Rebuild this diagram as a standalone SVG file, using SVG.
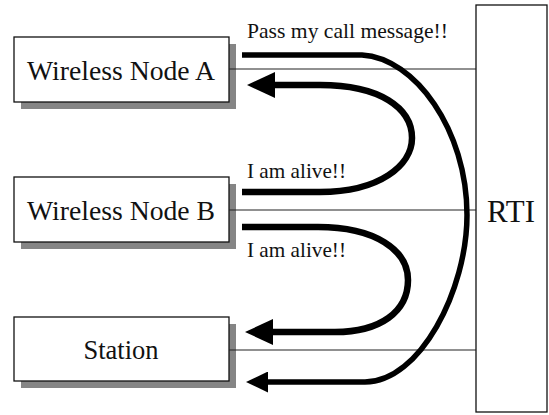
<svg xmlns="http://www.w3.org/2000/svg" width="549" height="415" viewBox="0 0 549 415">
  <style>
    .box { fill: #ffffff; stroke: #111; stroke-width: 1.3; }
    .shadow { fill: #858585; }
    text { font-family: "Liberation Serif", "Times New Roman", serif; fill: #111; }
    .node-text { font-size: 27px; text-anchor: middle; }
    .label { font-size: 21px; }
    .thin { stroke: #222; stroke-width: 1.2; fill: none; }
    .thick { stroke: #000; fill: none; stroke-linecap: butt; stroke-linejoin: round; }
  </style>
  <defs>
    <marker id="headBig" markerUnits="userSpaceOnUse" viewBox="0 0 28 26" refX="0" refY="13" markerWidth="28" markerHeight="26" orient="auto">
      <path d="M0,0 L28,13 L0,26 Z" fill="#000"/>
    </marker>
    <marker id="headSmall" markerUnits="userSpaceOnUse" viewBox="0 0 22 21" refX="0" refY="10.5" markerWidth="22" markerHeight="21" orient="auto">
      <path d="M0,0 L22,10.5 L0,21 Z" fill="#000"/>
    </marker>
  </defs>
  <rect width="549" height="415" fill="#ffffff"/>

  <g id="node-a">
    <rect class="shadow" x="21" y="44" width="215" height="65"/>
    <rect class="box" x="14" y="37" width="215" height="65"/>
    <text class="node-text" x="121" y="80" textLength="188" lengthAdjust="spacingAndGlyphs">Wireless Node A</text>
  </g>

  <g id="node-b">
    <rect class="shadow" x="21" y="184" width="215" height="65"/>
    <rect class="box" x="14" y="177" width="215" height="65"/>
    <text class="node-text" x="121" y="220" textLength="188" lengthAdjust="spacingAndGlyphs">Wireless Node B</text>
  </g>

  <g id="station">
    <rect class="shadow" x="21" y="324" width="215" height="64"/>
    <rect class="box" x="14" y="317" width="215" height="64"/>
    <text class="node-text" x="121" y="359" textLength="75" lengthAdjust="spacingAndGlyphs">Station</text>
  </g>

  <g id="rti">
    <rect class="box" x="476" y="5" width="71" height="407"/>
    <text x="511" y="222" font-size="31" text-anchor="middle" textLength="48" lengthAdjust="spacingAndGlyphs">RTI</text>
  </g>

  <g id="connectors">
    <line class="thin" x1="229" y1="69" x2="476" y2="69"/>
    <line class="thin" x1="229" y1="210" x2="476" y2="210"/>
    <line class="thin" x1="229" y1="350" x2="476" y2="350"/>

    <path class="thick" stroke-width="5.5" d="M242,55 L362,55 C415,58 467,130 467,215 C467,290 420,382 365,382 L268,382" marker-end="url(#headSmall)"/>
    <path class="thick" stroke-width="6.5" d="M242,192 L320,192 C380,192 412,165 412,138 C412,108 380,85 320,85 L275,85" marker-end="url(#headBig)"/>
    <path class="thick" stroke-width="6.5" d="M242,227 L318,227 C375,227 408,250 408,280 C408,312 380,332 335,332 L273,332" marker-end="url(#headBig)"/>

    <text class="label" x="247" y="38" textLength="201" lengthAdjust="spacingAndGlyphs">Pass my call message!!</text>
    <text class="label" x="247" y="178" textLength="99" lengthAdjust="spacingAndGlyphs">I am alive!!</text>
    <text class="label" x="247" y="257" textLength="99" lengthAdjust="spacingAndGlyphs">I am alive!!</text>
  </g>
</svg>
